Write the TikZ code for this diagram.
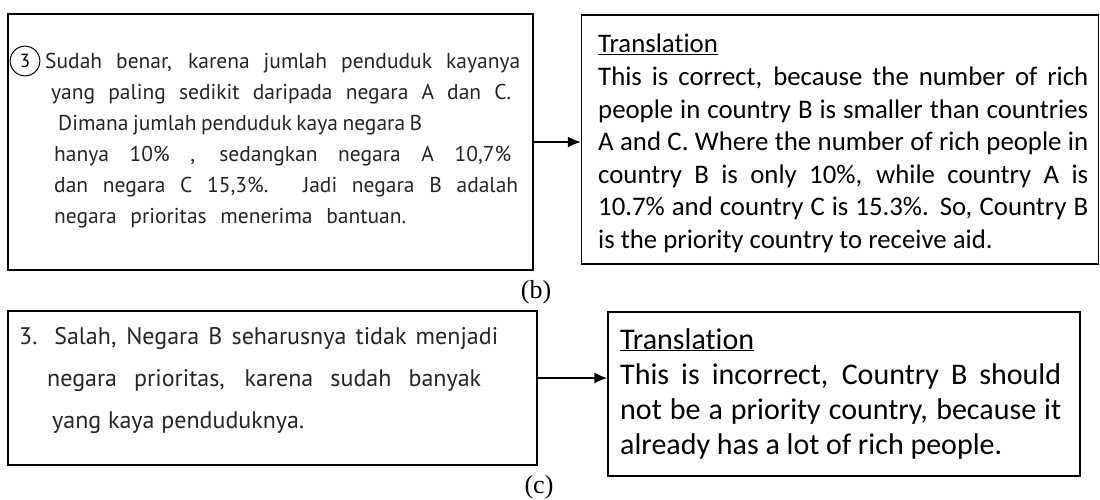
\documentclass[tikz,border=0pt]{standalone}
\usepackage{fontspec}
\setmainfont{Carlito}[Ligatures=NoCommon]
\newfontfamily\handfont{PT Sans}
\newfontfamily\capfont{Liberation Serif}
\usetikzlibrary{arrows.meta}

\tikzset{
	box/.style={draw, line width=1.4pt, inner sep=0pt},
	hand/.style={font=\handfont\fontsize{21.5}{21.5}\selectfont, text=black!85, inner sep=0pt, anchor=base west},
	handbig/.style={hand, font=\handfont\fontsize{24}{24}\selectfont},
	trans/.style={inner sep=0pt, anchor=north west, align=justify},
	lab/.style={font=\capfont\fontsize{26}{26}\selectfont, inner sep=0pt},
	arr/.style={line width=1.4pt, -{Latex[length=13pt, width=11pt]}}
}

\begin{document}
\begin{tikzpicture}[x=1pt, y=-1pt]
	\fill[white] (0,0) rectangle (1100,499);
	\useasboundingbox (0,0) rectangle (1100,499);
	% boxes
	\node[box, minimum width=525pt, minimum height=256pt] (b1) at (270.5,142) {};
	\node[box, minimum width=517pt, minimum height=249pt] (b2) at (840,139.5) {};
	\node[box, minimum width=529pt, minimum height=154pt] (b3) at (272.5,388) {};
	\node[box, minimum width=472pt, minimum height=164pt] (b4) at (844,394) {};
	% answer (b), handwritten
	\node[draw, circle, line width=1pt, inner sep=4.5pt, font=\handfont\fontsize{19}{19}\selectfont] (n3) at (25,61) {3};
	\node[hand] (h1) at (45,68) {\makebox[475pt][s]{Sudah benar, karena jumlah penduduk kayanya}};
	\node[hand] (h2) at (51,99) {\makebox[460pt][s]{yang paling sedikit daripada negara A dan C.}};
	\node[hand] (h3) at (58,130) {\makebox[364pt][s]{Dimana jumlah penduduk kaya negara B}};
	\node[hand] (h4) at (54,161) {\makebox[457pt][s]{hanya 10\% , sedangkan negara A 10,7\%}};
	\node[hand] (h5) at (54,192) {\makebox[464pt][s]{dan negara C 15,3\%. Jadi negara B adalah}};
	\node[hand] (h6) at (54,223) {\makebox[352pt][s]{negara prioritas menerima bantuan.}};
	% answer (c), handwritten
	\node[handbig] (k1) at (19,344) {\makebox[479pt][s]{3. Salah, Negara B seharusnya tidak menjadi}};
	\node[handbig] (k2) at (47,386) {\makebox[434pt][s]{negara prioritas, karena sudah banyak}};
	\node[handbig] (k3) at (52,428) {\makebox[252pt][s]{yang kaya penduduknya.}};
	% translations
	\node[trans, text width=490pt, font=\fontsize{26.8}{32.6}\selectfont] (t2) at (598,34) {\underline{Translation}\\
		This is correct, because the number of rich\linebreak
		people in country B is smaller than countries\linebreak
		A and C. Where the number of rich people in\linebreak
		country B is only 10\%, while country A is\linebreak
		10.7\% and country C is 15.3\%. So, Country B\linebreak
		is the priority country to receive aid.};
	\node[trans, text width=441pt, font=\fontsize{30}{35}\selectfont] (t4) at (620,328) {\underline{Translation}\\
		This is incorrect, Country B should\linebreak
		not be a priority country, because it\linebreak
		already has a lot of rich people.};
	% labels
	\node[lab] (lb) at (536,292) {(b)};
	\node[lab] (lc) at (539,487) {(c)};
	% arrows
	\draw[arr] (b1.east) -- (b1.east -| b2.west);
	\draw[arr] ([yshift=10pt]b3.east) -- ([yshift=10pt]b3.east -| b4.west);
\end{tikzpicture}
\end{document}
